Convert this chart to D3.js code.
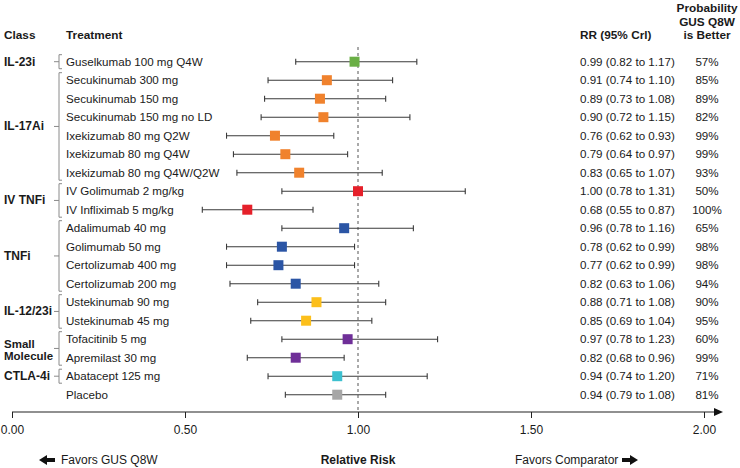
<!DOCTYPE html>
<html><head><meta charset="utf-8">
<script src="https://cdn.jsdelivr.net/npm/d3@7"></script>
<style>
body{margin:0;background:#fff;}
text{font-family:"Liberation Sans",Arial,sans-serif;fill:#1a1a1a;}
</style></head><body>
<svg id="c" width="740" height="468"></svg>
<script>
const treatments = ["Guselkumab 100 mg Q4W","Secukinumab 300 mg","Secukinumab 150 mg","Secukinumab 150 mg no LD","Ixekizumab 80 mg Q2W","Ixekizumab 80 mg Q4W","Ixekizumab 80 mg Q4W/Q2W","IV Golimumab 2 mg/kg","IV Infliximab 5 mg/kg","Adalimumab 40 mg","Golimumab 50 mg","Certolizumab 400 mg","Certolizumab 200 mg","Ustekinumab 90 mg","Ustekinumab 45 mg","Tofacitinib 5 mg","Apremilast 30 mg","Abatacept 125 mg","Placebo"];
const rr   = [0.99,0.91,0.89,0.90,0.76,0.79,0.83,1.00,0.68,0.96,0.78,0.77,0.82,0.88,0.85,0.97,0.82,0.94,0.94];
const lo   = [0.82,0.74,0.73,0.72,0.62,0.64,0.65,0.78,0.55,0.78,0.62,0.62,0.63,0.71,0.69,0.78,0.68,0.74,0.79];
const hi   = [1.17,1.10,1.08,1.15,0.93,0.97,1.07,1.31,0.87,1.16,0.99,0.99,1.06,1.08,1.04,1.23,0.96,1.20,1.08];
const prob = ["57%","85%","89%","82%","99%","99%","93%","50%","100%","65%","98%","98%","94%","90%","95%","60%","99%","71%","81%"];
const classNames = ["IL-23i","IL-17Ai","IV TNFi","TNFi","IL-12/23i","Small Molecule","CTLA-4i",""];
const classStart = [0,1,7,9,13,15,17,18];
const classEnd   = [0,6,8,12,14,16,17,18];
const classColors = ["#6aaf45","#f0822d","#e5202a","#2b55a5","#fcbf1b","#6f2f98","#3cc0cf","#a6a6a6"];
const xTicks = [0,0.5,1,1.5,2];

const svg = d3.select("#c");
const x = d3.scaleLinear().domain([0,2]).range([12,704]);
const y = d3.scalePoint().domain(d3.range(treatments.length)).range([61.7,394.7]);
const rowClass = treatments.map((t,i)=>classStart.findIndex((s,k)=>i>=s && i<=classEnd[k]));

// headers
const hdr = svg.append("g").attr("font-weight","bold").attr("font-size","11.8px");
hdr.append("text").attr("x",4).attr("y",39).text("Class");
hdr.append("text").attr("x",66).attr("y",39).text("Treatment");
hdr.append("text").attr("x",580).attr("y",39).text("RR (95% Crl)");
["Probability","GUS Q8W","is Better"].forEach((t,i)=>
  hdr.append("text").attr("x",707).attr("y",12+i*13.5).attr("text-anchor","middle").text(t));

// dashed reference
svg.append("line").attr("x1",x(1)).attr("x2",x(1)).attr("y1",47).attr("y2",411)
  .attr("stroke","#555").attr("stroke-width",1).attr("stroke-dasharray","3,3");

// class labels & brackets
classNames.forEach((c,k)=>{
  if(!c) return;
  const y0=y(classStart[k]), y1=y(classEnd[k]), ym=(y0+y1)/2;
  const single = classStart[k]===classEnd[k];
  const top = single? y0-7 : y0-7.5, bot = single? y1+7 : y1+7.5;
  const bx = 59;
  svg.append("path").attr("d",`M${bx+3},${top}H${bx}V${bot}H${bx+3}M${bx},${ym}H${bx-5}`)
    .attr("fill","none").attr("stroke","#8a8a8a").attr("stroke-width",1);
  const t = svg.append("text").attr("x",4).attr("font-weight","bold").attr("font-size","12px");
  if(c==="Small Molecule"){
    t.attr("font-size","11.5px");
    c.split(" ").forEach((l,i)=>t.append("tspan").attr("x",4).attr("y",ym-0.5+i*12).text(l));
  } else t.attr("y",ym+4).text(c);
});

// treatment labels
svg.append("g").selectAll("text").data(treatments).join("text")
  .attr("x",66).attr("y",(d,i)=>y(i)+4).attr("font-size","11.6px").text(d=>d);

// error bars
const eb = svg.append("g").attr("stroke","#3a3a3a").attr("stroke-width",1.1);
treatments.forEach((t,i)=>{
  eb.append("line").attr("x1",x(lo[i])).attr("x2",x(hi[i])).attr("y1",y(i)).attr("y2",y(i));
  eb.append("line").attr("x1",x(lo[i])).attr("x2",x(lo[i])).attr("y1",y(i)-3).attr("y2",y(i)+3);
  eb.append("line").attr("x1",x(hi[i])).attr("x2",x(hi[i])).attr("y1",y(i)-3).attr("y2",y(i)+3);
});
svg.append("g").selectAll("rect").data(rr).join("rect")
  .attr("x",d=>x(d)-5).attr("y",(d,i)=>y(i)-5).attr("width",10).attr("height",10)
  .attr("fill",(d,i)=>classColors[rowClass[i]]);

// RR & prob columns
svg.append("g").selectAll("text").data(rr).join("text")
  .attr("x",580).attr("y",(d,i)=>y(i)+4).attr("font-size","11.6px")
  .text((d,i)=>`${d.toFixed(2)} (${lo[i].toFixed(2)} to ${hi[i].toFixed(2)})`);
svg.append("g").selectAll("text").data(prob).join("text")
  .attr("x",707).attr("y",(d,i)=>y(i)+4).attr("font-size","11.6px").attr("text-anchor","middle").text(d=>d);

// axis
const ax = svg.append("g").attr("transform","translate(0,412)")
  .call(d3.axisBottom(x).tickValues(xTicks).tickFormat(d3.format(".2f")).tickSize(6).tickPadding(7));
ax.select(".domain").remove();
ax.selectAll(".tick line").attr("stroke","#222");
ax.selectAll(".tick text").attr("font-size","12px").attr("fill","#1a1a1a").attr("font-family","Liberation Sans, Arial, sans-serif");
svg.append("line").attr("x1",12).attr("x2",716).attr("y1",412).attr("y2",412).attr("stroke","#222").attr("stroke-width",1.1);
svg.append("path").attr("d","M723,412L714,408L714,416Z").attr("fill","#111");

// bottom labels
const arrow = (cx,dir)=>{
  const hx = cx+dir*8, bx = cx-dir*8;
  return `M${hx},460L${cx},455L${cx},458L${bx},458L${bx},462L${cx},462L${cx},465Z`;
};
svg.append("path").attr("d",arrow(47,-1)).attr("fill","#111");
svg.append("text").attr("x",61).attr("y",464).attr("font-size","12px").text("Favors GUS Q8W");
svg.append("text").attr("x",358).attr("y",464).attr("font-size","12px").attr("font-weight","bold").attr("text-anchor","middle").text("Relative Risk");
svg.append("text").attr("x",515).attr("y",464).attr("font-size","12px").text("Favors Comparator");
svg.append("path").attr("d",arrow(630,1)).attr("fill","#111");
</script></body></html>
